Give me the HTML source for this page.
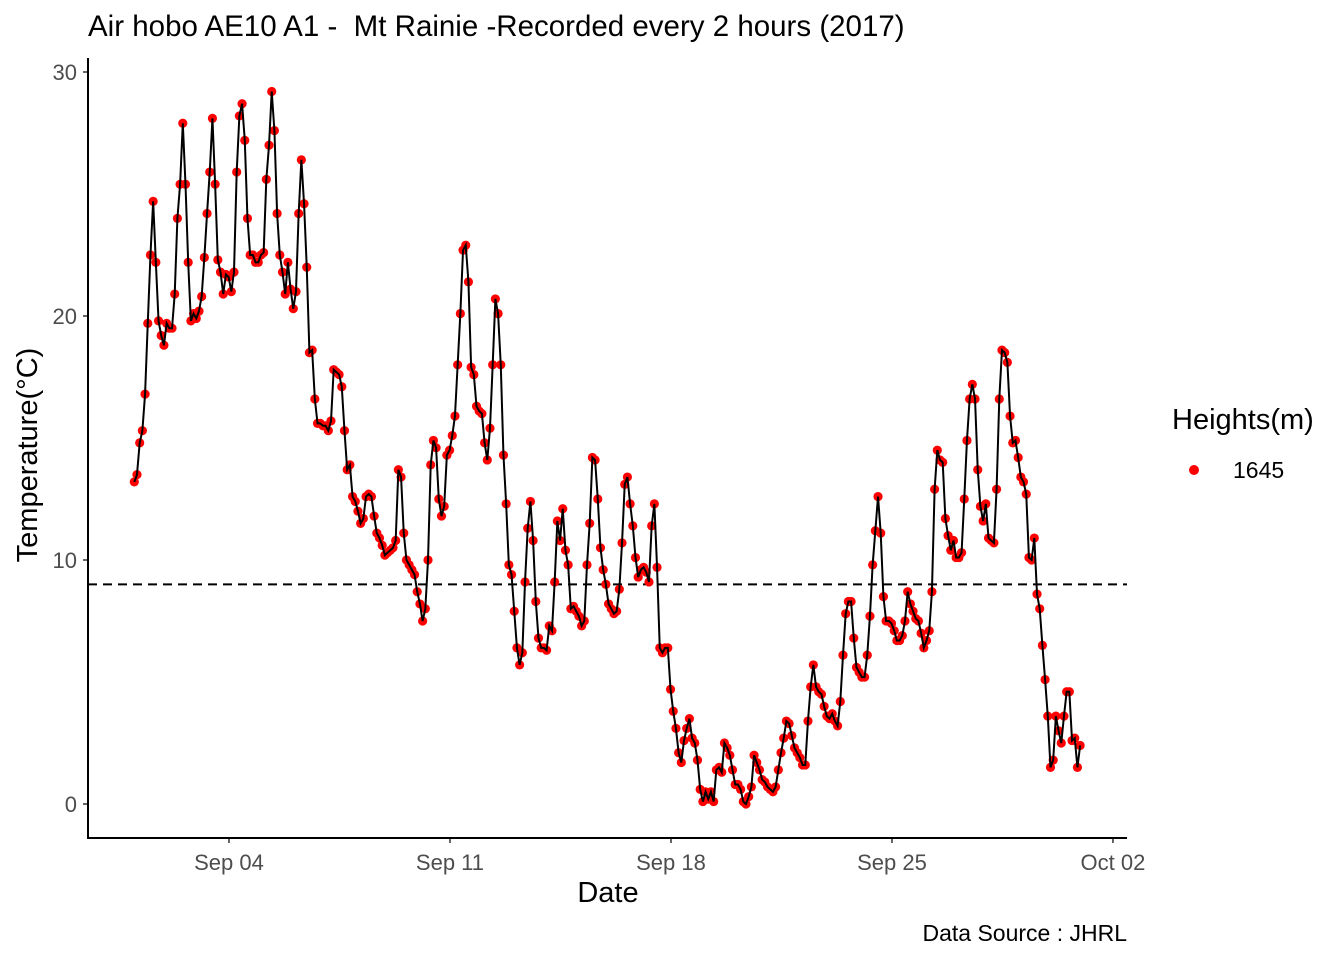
<!DOCTYPE html>
<html><head><meta charset="utf-8"><style>
body{margin:0;background:#fff;font-family:"Liberation Sans",Arial,sans-serif}
svg text{font-family:"Liberation Sans",Arial,sans-serif}
</style></head><body>
<svg id="chart" width="1344" height="960" xmlns="http://www.w3.org/2000/svg">
<text x="88" y="36" font-size="29.5" fill="#000" xml:space="preserve">Air hobo AE10 A1 -  Mt Rainie -Recorded every 2 hours (2017)</text>
<g id="plot"></g>
<line x1="88" y1="58" x2="88" y2="839" stroke="#000" stroke-width="2"/>
<line x1="87" y1="838" x2="1127" y2="838" stroke="#000" stroke-width="2"/>
<text transform="translate(37,455) rotate(-90)" text-anchor="middle" font-size="29">Temperature(°C)</text>
<text x="608" y="902" text-anchor="middle" font-size="29">Date</text>
<text x="1127" y="941" text-anchor="end" font-size="23">Data Source : JHRL</text>
<text x="1172" y="429" font-size="29">Heights(m)</text>
<circle cx="1194" cy="470" r="5" fill="#ff0000"/>
<text x="1233" y="478" font-size="23">1645</text>
</svg>
<script>
const temps=[13.2,13.5,14.8,15.3,16.8,19.7,22.5,24.7,22.2,19.8,19.2,18.8,19.7,19.5,19.5,20.9,24.0,25.4,27.9,25.4,22.2,19.8,20.1,19.9,20.2,20.8,22.4,24.2,25.9,28.1,25.4,22.3,21.8,20.9,21.7,21.6,21.0,21.8,25.9,28.2,28.7,27.2,24.0,22.5,22.5,22.2,22.2,22.5,22.6,25.6,27.0,29.2,27.6,24.2,22.5,21.8,20.9,22.2,21.1,20.3,21.0,24.2,26.4,24.6,22.0,18.5,18.6,16.6,15.6,15.6,15.5,15.5,15.3,15.7,17.8,17.7,17.6,17.1,15.3,13.7,13.9,12.6,12.4,12.0,11.5,11.7,12.6,12.7,12.6,11.8,11.1,10.9,10.6,10.2,10.3,10.4,10.5,10.8,13.7,13.4,11.1,10.0,9.8,9.6,9.4,8.7,8.2,7.5,8.0,10.0,13.9,14.9,14.6,12.5,11.8,12.2,14.3,14.5,15.1,15.9,18.0,20.1,22.7,22.9,21.4,17.9,17.6,16.3,16.1,16.0,14.8,14.1,15.4,18.0,20.7,20.1,18.0,14.3,12.3,9.8,9.4,7.9,6.4,5.7,6.2,9.1,11.3,12.4,10.8,8.3,6.8,6.4,6.4,6.3,7.3,7.1,9.1,11.6,10.8,12.1,10.4,9.8,8.0,8.1,7.9,7.7,7.3,7.5,9.8,11.5,14.2,14.1,12.5,10.5,9.6,9.0,8.2,8.0,7.8,7.9,8.8,10.7,13.1,13.4,12.3,11.4,10.1,9.3,9.6,9.7,9.5,9.1,11.4,12.3,9.7,6.4,6.2,6.4,6.4,4.7,3.8,3.1,2.1,1.7,2.6,3.1,3.5,2.7,2.5,1.8,0.6,0.1,0.5,0.2,0.5,0.1,1.4,1.5,1.3,2.5,2.3,2.0,1.4,0.8,0.8,0.6,0.1,0.0,0.3,0.7,2.0,1.7,1.4,1.0,0.9,0.7,0.6,0.5,0.7,1.4,2.1,2.7,3.4,3.3,2.8,2.3,2.1,1.9,1.6,1.6,3.4,4.8,5.7,4.8,4.6,4.5,4.0,3.6,3.5,3.7,3.4,3.2,4.2,6.1,7.8,8.3,8.3,6.8,5.6,5.4,5.2,5.2,6.1,7.7,9.8,11.2,12.6,11.1,8.5,7.5,7.5,7.4,7.1,6.7,6.7,6.9,7.5,8.7,8.2,7.9,7.6,7.5,7.0,6.4,6.7,7.1,8.7,12.9,14.5,14.1,14.0,11.7,11.0,10.4,10.8,10.1,10.1,10.3,12.5,14.9,16.6,17.2,16.6,13.7,12.2,11.6,12.3,10.9,10.8,10.7,12.9,16.6,18.6,18.5,18.1,15.9,14.8,14.9,14.2,13.4,13.2,12.7,10.1,10.0,10.9,8.6,8.0,6.5,5.1,3.6,1.5,1.8,3.6,3.0,2.5,3.6,4.6,4.6,2.6,2.7,1.5,2.4];
const yTicks=[0,10,20,30];
const xTickLabels=["Sep 04","Sep 11","Sep 18","Sep 25","Oct 02"];
const xTickDays=[3,10,17,24,31];
const threshold=9;
const startDay=0.0, endDay=29.96;
const NS="http://www.w3.org/2000/svg";
const yScale=v=>804-v*24.4;
const xScale=d=>229+(d-3)*31.57;
const g=document.getElementById('plot');
function mk(t,a){const e=document.createElementNS(NS,t);for(const k in a)e.setAttribute(k,a[k]);return e;}
yTicks.forEach(v=>{
 const l=mk('line',{x1:83,x2:88,y1:yScale(v),y2:yScale(v),stroke:'#333','stroke-width':1.5});
 
 
 g.appendChild(l);
 const t=mk('text',{x:77,y:yScale(v)+8,'text-anchor':'end','font-size':22,fill:'#4d4d4d'});
 t.textContent=v;
 
 
 g.appendChild(t);
});
xTickDays.forEach((d,i)=>{
 const l=mk('line',{x1:xScale(d),x2:xScale(d),y1:838,y2:843,stroke:'#333','stroke-width':1.5});
 
 
 g.appendChild(l);
 const t=mk('text',{x:xScale(d),y:870,'text-anchor':'middle','font-size':22,fill:'#4d4d4d'});
 t.textContent=xTickLabels[i];
 
 
 g.appendChild(t);
});
const hl=mk('line',{x1:88,x2:1127,y1:yScale(threshold),y2:yScale(threshold),stroke:'#000','stroke-width':2,'stroke-dasharray':'9,6'});


g.appendChild(hl);
const step=(endDay-startDay)/(temps.length-1);
const pts=temps.map((v,i)=>[xScale(startDay+i*step),yScale(v)]);
pts.forEach(p=>{
 const c=mk('circle',{cx:p[0],cy:p[1],r:4.6,fill:'#ff0000'});
 
 
 g.appendChild(c);
});
const pl=mk('polyline',{points:pts.map(p=>p.join(',')).join(' '),fill:'none',stroke:'#000','stroke-width':2});


g.appendChild(pl);
</script>
</body></html>
